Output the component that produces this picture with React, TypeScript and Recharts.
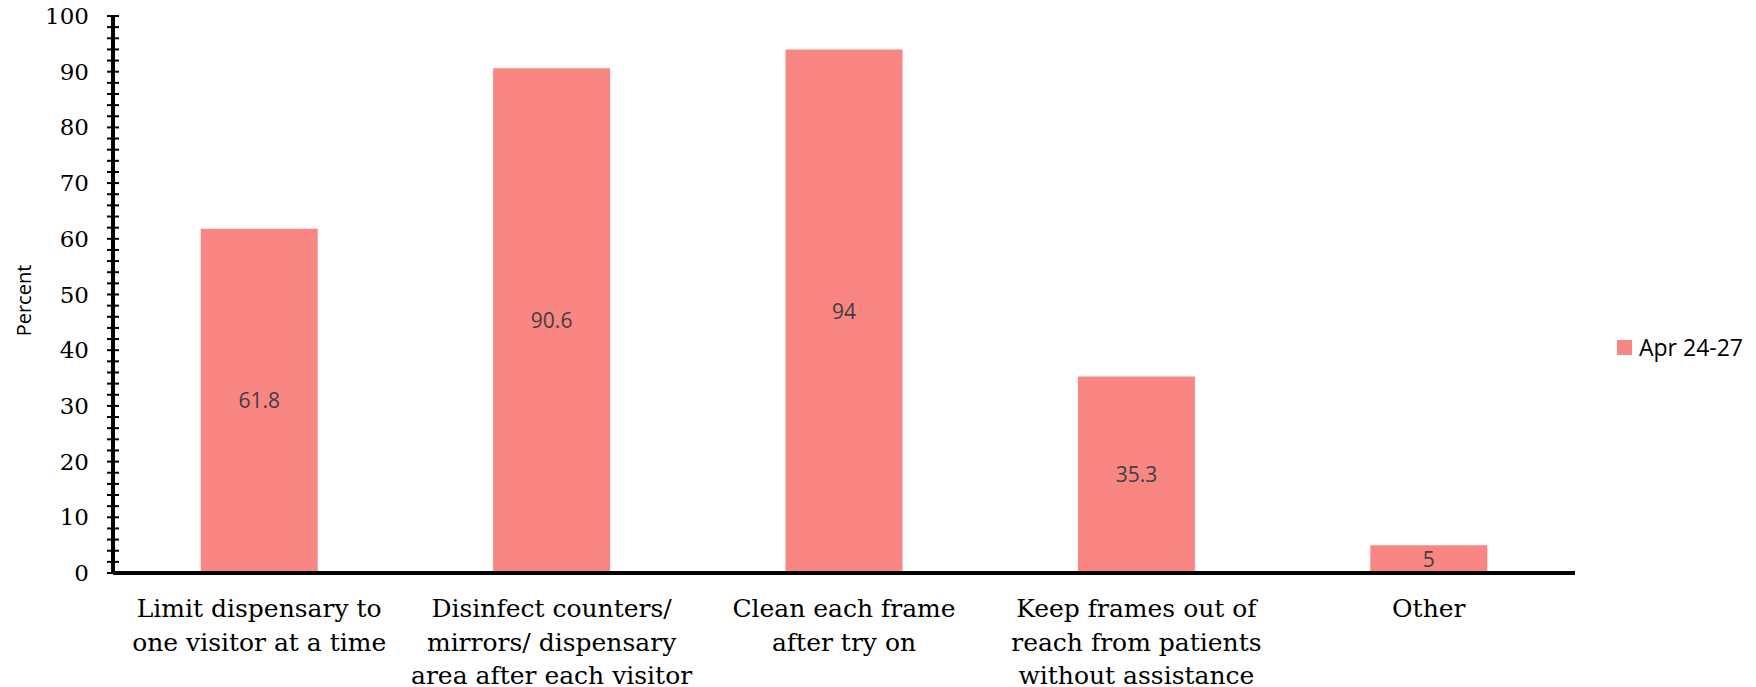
import React from 'react';
import { BarChart, Bar, XAxis, YAxis, Legend, LabelList } from 'recharts';

// categories + line breaks as shown under the axis
const categories = [
    'Limit dispensary to one visitor at a time',
    'Disinfect counters/ mirrors/ dispensary area after each visitor',
    'Clean each frame after try on',
    'Keep frames out of reach from patients without assistance',
    'Other'
];
const categoryLines = [
    ['Limit dispensary to', 'one visitor at a time'],
    ['Disinfect counters/', 'mirrors/ dispensary', 'area after each visitor'],
    ['Clean each frame', 'after try on'],
    ['Keep frames out of', 'reach from patients', 'without assistance'],
    ['Other']
];
const aprValues = [61.8, 90.6, 94, 35.3, 5];
const seriesName = 'Apr 24-27';

const yLabelTicks = [0, 10, 20, 30, 40, 50, 60, 70, 80, 90, 100];
const yAllTicks = Array.from({ length: 51 }, (_, i) => i * 2);

const data = categories.map((name, i) => ({ name, apr: aprValues[i] }));

const BAR_COLOR = '#FA8683';
const SERIF = '"DejaVu Serif", serif';
const SANS = '"Open Sans", sans-serif';
const Y_TICK_SIZE = 6;
const Y_TICK_MARGIN = 18;
const LEGEND_W = 140;

const YTick = (props: any) => {
    const { x, y, payload } = props;
    const axisX = x + Y_TICK_SIZE + Y_TICK_MARGIN;
    return (
        <g>
            <line x1={axisX - 6} x2={axisX + 6} y1={y} y2={y} stroke="#000" strokeWidth={2} />
            {yLabelTicks.includes(payload.value) && (
                <text x={x} y={y} dy={8} textAnchor="end" fontSize={23} fontFamily={SERIF} fill="#000">
                    {payload.value}
                </text>
            )}
        </g>
    );
};

const XTick = (props: any) => {
    const { x, y, payload } = props;
    const idx = categories.indexOf(payload.value);
    const lines = categoryLines[idx] || [payload.value];
    return (
        <text x={x} y={y} textAnchor="middle" fontSize={25} fontFamily={SERIF} fill="#000">
            {lines.map((ln, i) => (
                <tspan key={i} x={x} dy={i === 0 ? 44 : 33.5}>{ln}</tspan>
            ))}
        </text>
    );
};

const LegendBox = () => (
    <div style={{ display: 'flex', alignItems: 'center', height: 24, fontFamily: SANS, fontSize: 23, color: '#000' }}>
        <span style={{ width: 15, height: 15, background: BAR_COLOR, marginRight: 7, display: 'inline-block' }} />
        <span>{seriesName}</span>
    </div>
);

const YLabel = (props: any) => {
    const { viewBox } = props;
    const cx = 15;
    const cy = viewBox.y + viewBox.height / 2 + 6;
    return (
        <text x={cx} y={cy} transform={`rotate(-90 ${cx} ${cy})`} textAnchor="middle" dominantBaseline="central"
            fontSize={20} fontFamily={SANS} fill="#000">
            Percent
        </text>
    );
};

export default function App() {
    return (
        <div style={{ width: 1748, height: 679, background: '#fff' }}>
            {/* legend width gets added to the right offset, so take it off the margin */}
            <BarChart width={1748} height={679} data={data} barCategoryGap="30%"
                margin={{ top: 8, right: 181 - LEGEND_W, left: 0, bottom: 0 }}>
                <XAxis dataKey="name" height={114} interval={0} tick={<XTick />} tickLine={false}
                    tickSize={0} tickMargin={0} axisLine={{ stroke: '#000', strokeWidth: 4 }} />
                <YAxis width={105} domain={[0, 100]} ticks={yAllTicks} interval={0} tick={<YTick />}
                    tickLine={false} tickSize={Y_TICK_SIZE} tickMargin={Y_TICK_MARGIN}
                    axisLine={{ stroke: '#000', strokeWidth: 4 }} label={<YLabel />} />
                <Legend layout="horizontal" verticalAlign="middle" align="right" content={<LegendBox />}
                    wrapperStyle={{ left: 1609, top: 327, width: LEGEND_W }} />
                <Bar dataKey="apr" name={seriesName} fill={BAR_COLOR} isAnimationActive={false}>
                    <LabelList dataKey="apr" position="center" fill="#404040" fontSize={21} fontFamily={SANS} />
                </Bar>
            </BarChart>
        </div>
    );
}
